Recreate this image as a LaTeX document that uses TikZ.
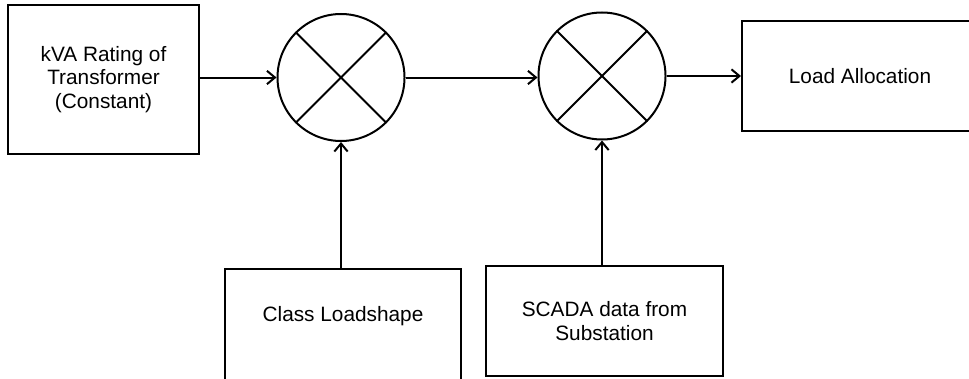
\documentclass[tikz,border=0pt]{standalone}
\usepackage{fontspec}
\setmainfont{Liberation Sans}
\usetikzlibrary{arrows.meta}
\begin{document}
\begin{tikzpicture}[x=0.75pt,y=-0.75pt,
  line width=1.5pt,
  box/.style={draw=black, rectangle, inner sep=0pt, align=center,
    font=\fontsize{15.6pt}{17.8pt}\selectfont},
  txt/.style={inner sep=0pt, align=center, font=\fontsize{15.6pt}{17.8pt}\selectfont},
  mult/.style={draw=black, circle, minimum size=95.25pt, inner sep=0pt},
  flow/.style={-{Straight Barb[length=6pt,width=10pt,line width=1.5pt]}}]
\useasboundingbox (0,0) rectangle (969,378);
\clip (0,0) rectangle (969,378);
\node[box, minimum width=143.25pt, minimum height=111.75pt] (b1) at (103.5,79.5)
  {kVA Rating of\\Transformer\\(Constant)};
\node[mult] (c1) at (341,77.5) {};
\node[mult] (c2) at (602,76) {};
\node[box, minimum width=177pt, minimum height=82.5pt] (la) at (860,76) {};
\node[txt] (lat) at (860,76) {Load Allocation};
\node[box, minimum width=177pt, minimum height=105pt] (cls) at (343,339) {};
\node[txt] (clst) at (343,316) {Class Loadshape};
\node[box, minimum width=177.75pt, minimum height=82.5pt] (sc) at (604.5,321)
  {SCADA data from\\Substation};
\draw (c1.45) -- (c1.225) (c1.135) -- (c1.315);
\draw (c2.45) -- (c2.225) (c2.135) -- (c2.315);
\draw[flow] (b1.east |- c1.west) -- (c1.west);
\draw[flow] (c1.east) -- (c1.east -| c2.west);
\draw[flow] (c2.east) -- (c2.east -| la.west);
\draw[flow] (cls.north -| c1.south) -- (c1.south);
\draw[flow] (sc.north -| c2.south) -- (c2.south);
\end{tikzpicture}
\end{document}
